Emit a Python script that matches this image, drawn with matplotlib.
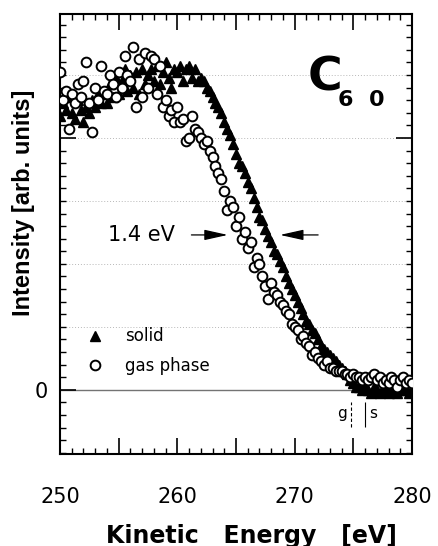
import numpy as np
import matplotlib
matplotlib.use('Agg')
import matplotlib.pyplot as plt
from matplotlib.ticker import MultipleLocator

# kinetic energy scan, 0.25 eV steps from 250 to 280 eV
energy = np.linspace(250, 280, 121)

# solid C60 (filled triangles)
solid = [
    4.35, 4.55, 4.45, 4.65, 4.40, 4.30, 4.60, 4.45,
    4.25, 4.50, 4.40, 4.60, 4.50, 4.70, 4.55, 4.70,
    4.55, 4.85, 4.65, 4.95, 4.70, 4.90, 5.10, 4.75,
    5.00, 4.80, 5.05, 4.70, 5.10, 4.85, 5.00, 5.10,
    4.90, 5.15, 4.85, 5.05, 5.20, 4.95, 4.80, 5.10,
    5.05, 5.15, 4.90, 5.10, 5.15, 4.95, 5.10, 4.90,
    4.95, 4.90, 4.80, 4.75, 4.65, 4.55, 4.50, 4.40,
    4.25, 4.15, 4.05, 3.90, 3.75, 3.60, 3.55, 3.45,
    3.30, 3.20, 3.05, 2.90, 2.75, 2.70, 2.55, 2.45,
    2.35, 2.20, 2.15, 2.05, 1.95, 1.80, 1.70, 1.60,
    1.50, 1.40, 1.30, 1.20, 1.10, 1.05, 0.95, 0.90,
    0.80, 0.70, 0.65, 0.60, 0.55, 0.50, 0.45, 0.40,
    0.35, 0.30, 0.25, 0.15, 0.10, 0.05, 0.05, 0.00,
    0.05, 0.00, -0.05, 0.05, 0.00, -0.05, 0.00, 0.05,
    -0.05, 0.00, 0.05, -0.05, 0.00, 0.05, 0.00, -0.05,
    0.00,
]

# gas phase C60 (open circles)
gas = [
    5.05, 4.60, 4.75, 4.15, 4.70, 4.55, 4.85, 4.65,
    4.90, 5.20, 4.55, 4.10, 4.80, 4.60, 5.15, 4.75,
    4.70, 5.00, 4.85, 4.65, 5.05, 4.80, 5.30, 5.00,
    4.90, 5.45, 4.50, 5.25, 4.65, 5.35, 4.80, 5.30,
    5.25, 4.70, 5.15, 4.50, 4.60, 4.35, 4.45, 4.25,
    4.50, 4.25, 4.30, 3.95, 4.00, 4.35, 4.15, 4.10,
    4.00, 3.90, 3.95, 3.80, 3.70, 3.55, 3.45, 3.35,
    3.15, 2.85, 3.00, 2.90, 2.60, 2.75, 2.40, 2.50,
    2.25, 2.35, 1.95, 2.10, 2.00, 1.80, 1.65, 1.45,
    1.70, 1.55, 1.50, 1.40, 1.35, 1.25, 1.20, 1.05,
    1.00, 0.95, 0.80, 0.85, 0.75, 0.70, 0.55, 0.60,
    0.50, 0.45, 0.40, 0.45, 0.35, 0.35, 0.30, 0.30,
    0.30, 0.25, 0.25, 0.20, 0.25, 0.20, 0.20, 0.15,
    0.20, 0.15, 0.20, 0.25, 0.15, 0.20, 0.10, 0.15,
    0.10, 0.20, 0.15, 0.05, 0.15, 0.20, 0.10, 0.15,
    0.10,
]

xticks_major = [250, 255, 260, 265, 270, 275, 280]
xtick_labels = ['250', '', '260', '', '270', '', '280']
yticks_major = [0, 4]
ytick_labels = ['0', '']
grid_levels = [1, 2, 3, 4, 5]

# width marker (1.4 eV) and threshold marks g / s
width_level = 2.46
width_left = [261.2, 264.3]
width_right = [272.0, 268.75]
edge_g = 274.8
edge_s = 276.0


def main():
    fig = plt.figure(figsize=(4.38, 5.46), dpi=100)
    ax = fig.add_axes([0.137, 0.1685, 0.8036, 0.8059])

    for lv in grid_levels:
        ax.axhline(lv, color='0.72', lw=0.7, ls=(0, (1, 2)), zorder=1)
    ax.axhline(0, color='0.45', lw=1.0, zorder=1)

    ax.plot(energy, solid, ls='none', marker='^', ms=7.8, color='black',
            label='solid', zorder=3)
    ax.plot(energy, gas, ls='none', marker='o', ms=7.0, mfc='white',
            mec='black', mew=1.4, label='gas phase', zorder=4)

    ax.set_xlim(250, 280)
    ax.set_ylim(-1.02, 5.97)

    ax.set_xticks(xticks_major, xtick_labels)
    ax.set_yticks(yticks_major, ytick_labels)
    ax.xaxis.set_minor_locator(MultipleLocator(1))
    ax.yaxis.set_minor_locator(MultipleLocator(0.2))
    ax.tick_params(which='both', direction='in', top=True, right=True)
    ax.tick_params(which='major', length=11.5, width=1.2, labelsize=15)
    ax.tick_params(which='minor', length=4.5, width=1.0)
    ax.tick_params(axis='x', which='major', pad=24)
    ax.tick_params(axis='y', which='major', pad=9)
    for s in ax.spines.values():
        s.set_linewidth(1.5)

    ax.set_xlabel('Kinetic   Energy   [eV]', fontsize=17, fontweight='bold')
    ax.xaxis.set_label_coords(0.545, -0.158)
    ax.set_ylabel('Intensity [arb. units]', fontsize=17, fontweight='bold',
                  family='Liberation Sans')
    ax.yaxis.set_label_coords(-0.072, 0.57)

    # C60 label
    ax.text(0.753, 0.855, 'C', transform=ax.transAxes, fontsize=34,
            fontweight='bold', ha='center', va='center')
    ax.text(0.855, 0.805, '6  0', transform=ax.transAxes, fontsize=16,
            fontweight='bold', ha='center', va='center')

    # width arrows
    arrow = dict(arrowstyle='-|>,head_length=0.9,head_width=0.2',
                 color='black', lw=0.9, mutation_scale=16, shrinkA=0, shrinkB=0)
    ax.annotate('', xy=(width_left[1], width_level),
                xytext=(width_left[0], width_level), arrowprops=arrow)
    ax.annotate('', xy=(width_right[1], width_level),
                xytext=(width_right[0], width_level), arrowprops=arrow)
    ax.text(256.9, width_level, '1.4 eV', fontsize=15, ha='center', va='center')

    # onset marks
    ax.vlines(edge_g, -0.59, -0.19, colors='black', lw=0.8, linestyles=(0, (3, 2)))
    ax.vlines(edge_s, -0.59, -0.19, colors='black', lw=0.8)
    ax.text(edge_g - 0.35, -0.38, 'g', fontsize=11, ha='right', va='center')
    ax.text(edge_s + 0.35, -0.38, 's', fontsize=11, ha='left', va='center')

    ax.legend(loc='center left', bbox_to_anchor=(0.076, 0.234), frameon=False,
              fontsize=12, handlelength=1.0, handletextpad=1.3,
              labelspacing=0.68, borderpad=0, borderaxespad=0)

    fig.savefig('out.png', dpi=100)


if __name__ == '__main__':
    main()
